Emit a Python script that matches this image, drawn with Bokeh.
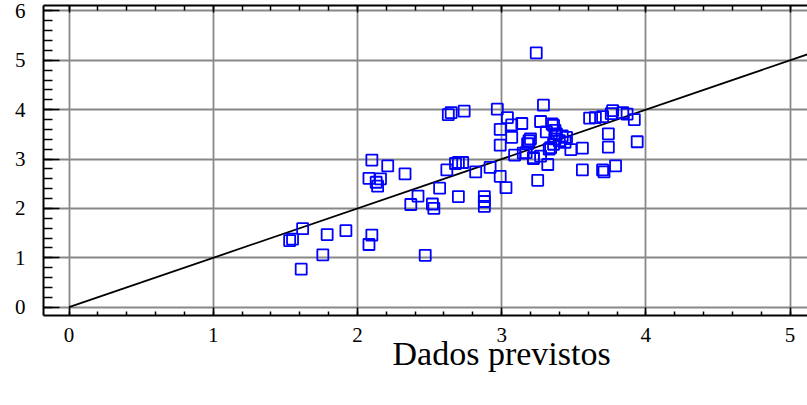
from bokeh.plotting import figure
from bokeh.models import (Range1d, LinearAxis, Title, SingleIntervalTicker,
                          ColumnDataSource, CustomJSTickFormatter)
from bokeh.embed import file_html
from bokeh.resources import INLINE

# ---- data ----
obs_x = [1.53, 1.55, 1.62, 1.61, 1.76, 1.79, 1.92, 2.10, 2.08, 2.47,
         2.10, 2.21, 2.08, 2.16, 2.14, 2.13, 2.33, 2.42, 2.37, 2.52,
         2.53, 2.57, 2.62, 2.68, 2.70, 2.73, 2.70, 2.82, 2.92, 2.99,
         3.03, 2.88, 2.88, 2.88, 3.25, 3.32,
         2.63, 2.65, 2.74, 2.97, 3.04, 2.99, 3.07, 3.14, 3.29, 3.27,
         3.24, 2.99, 3.07, 3.20, 3.18, 3.09, 3.15, 3.22, 3.27, 3.33,
         3.35, 3.36, 3.37, 3.31, 3.38, 3.19, 3.34, 3.36, 3.37, 3.42,
         3.45, 3.44, 3.40, 3.48, 3.56, 3.61, 3.65, 3.70, 3.76, 3.77,
         3.84, 3.87, 3.92, 3.74, 3.74, 3.94, 3.79, 3.70, 3.71, 3.56,
         3.22, 3.17]
obs_y = [1.35, 1.38, 1.59, 0.77, 1.06, 1.47, 1.55, 1.46, 1.27, 1.05,
         2.98, 2.86, 2.61, 2.60, 2.45, 2.53, 2.70, 2.25, 2.08, 2.09,
         2.00, 2.41, 2.78, 2.91, 2.93, 2.93, 2.24, 2.74, 2.83, 2.65,
         2.42, 2.24, 2.14, 2.04, 2.57, 2.89,
         3.90, 3.94, 3.97, 4.01, 3.84, 3.60, 3.69, 3.72, 4.09, 3.76,
         5.15, 3.28, 3.44, 3.41, 3.31, 3.08, 3.12, 3.01, 3.06, 3.20,
         3.71, 3.68, 3.58, 3.55, 3.51, 3.37, 3.23, 3.30, 3.41, 3.47,
         3.44, 3.34, 3.37, 3.19, 3.22, 3.83, 3.84, 3.86, 3.92, 3.98,
         3.94, 3.91, 3.80, 3.51, 3.24, 3.35, 2.86, 2.78, 2.74, 2.78,
         3.03, 3.13]
ref_line_x = [0.0, 5.3]
ref_line_y = [0.0, 5.3]
x_title = "Dados previstos"

SERIF = "Liberation Serif"

p = figure(width=807, height=405, output_backend="svg", toolbar_location=None,
           x_range=Range1d(-0.177, 5.121), y_range=Range1d(-0.168, 6.109),
           x_axis_location=None, y_axis_location=None,
           min_border_left=43, min_border_right=0, min_border_top=5,
           min_border_bottom=90)
p.outline_line_color = None
p.background_fill_color = "white"
p.border_fill_color = "white"

def style_axis(ax, major_in, minor_in):
    ax.ticker = SingleIntervalTicker(interval=1, num_minor_ticks=5)
    ax.axis_line_color = "black"
    ax.axis_line_width = 2
    ax.major_tick_line_color = "black"
    ax.minor_tick_line_color = "black"
    ax.major_tick_line_width = 1.5
    ax.minor_tick_line_width = 1.5
    ax.major_tick_in = major_in
    ax.major_tick_out = 0
    ax.minor_tick_in = minor_in
    ax.minor_tick_out = 0
    ax.major_label_text_font = SERIF
    ax.major_label_text_font_size = "21px"
    ax.major_label_text_color = "black"

xb = LinearAxis()
style_axis(xb, 8, 4)
xb.major_label_standoff = 12
p.add_layout(xb, "below")

yl = LinearAxis()
style_axis(yl, 16, 9)
yl.major_label_standoff = 18
p.add_layout(yl, "left")

xt = LinearAxis()
style_axis(xt, 7, 5)
xt.formatter = CustomJSTickFormatter(code="return ''")
xt.major_label_standoff = 0
p.add_layout(xt, "above")

p.xgrid.ticker = SingleIntervalTicker(interval=1)
p.ygrid.ticker = SingleIntervalTicker(interval=1)
for g in (p.xgrid, p.ygrid):
    g.grid_line_color = "#888888"
    g.grid_line_width = 1.8

p.line(ref_line_x, ref_line_y, line_color="black", line_width=1.8)
src = ColumnDataSource(dict(x=obs_x, y=obs_y))
p.scatter("x", "y", source=src, marker="square", size=11, fill_color=None,
          line_color="#0000ff", line_width=1.8)

p.add_layout(Title(text=x_title, align="left", offset=349, standoff=-24,
                   text_font=SERIF, text_font_size="34px",
                   text_font_style="normal", text_color="black"), "below")

open("out.html", "w").write(file_html(p, INLINE))
